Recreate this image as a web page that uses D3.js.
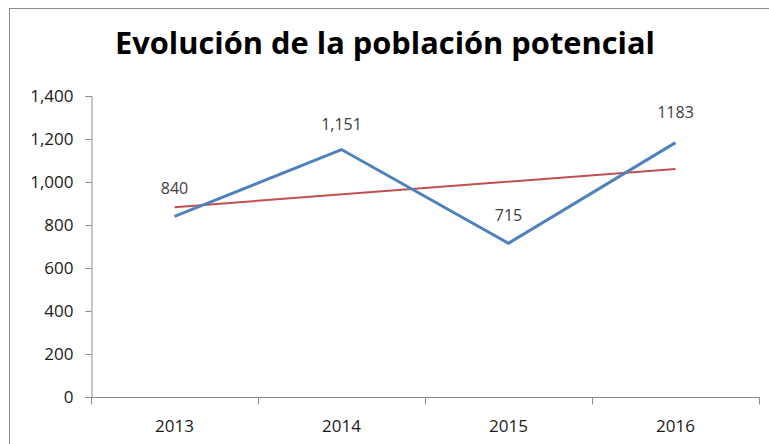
<!DOCTYPE html>
<html>
<head>
<meta charset="utf-8">
<script src="https://cdn.jsdelivr.net/npm/d3@7"></script>
<style>
  html, body { margin: 0; padding: 0; background: #fff; }
  svg { display: block; }
</style>
</head>
<body>
<svg id="chart" width="769" height="444"></svg>
<script>
// Population data by year
const years = ["2013", "2014", "2015", "2016"];
const poblacion = [840, 1151, 715, 1183];
const etiquetas = ["840", "1,151", "715", "1183"];
// Linear trend line endpoints (first and last year)
const tendencia = [883, 1061];
const yTicks = [0, 200, 400, 600, 800, 1000, 1200, 1400];

const svg = d3.select("#chart");
const W = 769, H = 444;
const m = { left: 91, right: 759, top: 96, bottom: 397 };

// Outer chart frame
svg.append("rect")
  .attr("x", 9.5).attr("y", 8.5)
  .attr("width", W + 20).attr("height", H + 20)
  .attr("fill", "#fff").attr("stroke", "#8c8c8c").attr("stroke-width", 1);

// Title
svg.append("text")
  .attr("x", 385).attr("y", 54)
  .attr("text-anchor", "middle")
  .attr("font-family", "'Open Sans', 'Noto Sans', sans-serif")
  .attr("font-weight", "bold")
  .attr("font-size", 30)
  .attr("textLength", 540)
  .attr("lengthAdjust", "spacingAndGlyphs")
  .attr("fill", "#000")
  .text("Evolución de la población potencial");

const x = d3.scaleBand().domain(years).range([m.left, m.right]).paddingInner(0).paddingOuter(0);
const y = d3.scaleLinear().domain([0, 1400]).range([m.bottom, m.top]);
const cx = d => x(d) + x.bandwidth() / 2;

const fmt = d3.format(",");
const font = "'Open Sans', 'Noto Sans', sans-serif";

// Y axis
const yAxis = svg.append("g")
  .attr("transform", `translate(${m.left + 0.5},0)`)
  .call(d3.axisLeft(y).tickValues(yTicks).tickFormat(fmt).tickSize(6).tickPadding(12));
yAxis.select(".domain").attr("stroke", "#8c8c8c");
yAxis.selectAll(".tick line").attr("stroke", "#8c8c8c");
yAxis.selectAll(".tick text")
  .attr("font-family", font).attr("font-size", 17).attr("fill", "#1a1a1a");

// X axis with ticks on category boundaries
const xAxis = svg.append("g")
  .attr("transform", `translate(0,${m.bottom + 0.5})`);
xAxis.append("line")
  .attr("x1", m.left - 6).attr("x2", m.right + 0.5)
  .attr("stroke", "#8c8c8c");
const bounds = years.map(d => x(d)).concat([m.right]);
xAxis.selectAll("line.tk").data(bounds).join("line")
  .attr("class", "tk")
  .attr("x1", d => d + 0.5).attr("x2", d => d + 0.5)
  .attr("y1", 0).attr("y2", 7)
  .attr("stroke", "#8c8c8c");
xAxis.selectAll("text").data(years).join("text")
  .attr("x", d => cx(d)).attr("y", 34)
  .attr("text-anchor", "middle")
  .attr("font-family", font).attr("font-size", 17).attr("fill", "#1a1a1a")
  .text(d => d);

// Trend line
const first = years[0], last = years[years.length - 1];
svg.append("line")
  .attr("x1", cx(first)).attr("y1", y(tendencia[0]))
  .attr("x2", cx(last)).attr("y2", y(tendencia[1]))
  .attr("stroke", "#c0504d").attr("stroke-width", 2);

// Population series
const line = d3.line().x((d, i) => cx(years[i])).y(d => y(d));
svg.append("path")
  .datum(poblacion)
  .attr("d", line)
  .attr("fill", "none")
  .attr("stroke", "#4f81bd")
  .attr("stroke-width", 3)
  .attr("stroke-linejoin", "miter");

// Data labels
const offsets = [-22, -20, -22, -25];
svg.selectAll("text.lbl").data(poblacion).join("text")
  .attr("class", "lbl")
  .attr("x", (d, i) => cx(years[i]))
  .attr("y", (d, i) => y(d) + offsets[i])
  .attr("text-anchor", "middle")
  .attr("font-family", font).attr("font-size", 16).attr("fill", "#404040")
  .text((d, i) => etiquetas[i]);
</script>
</body>
</html>
